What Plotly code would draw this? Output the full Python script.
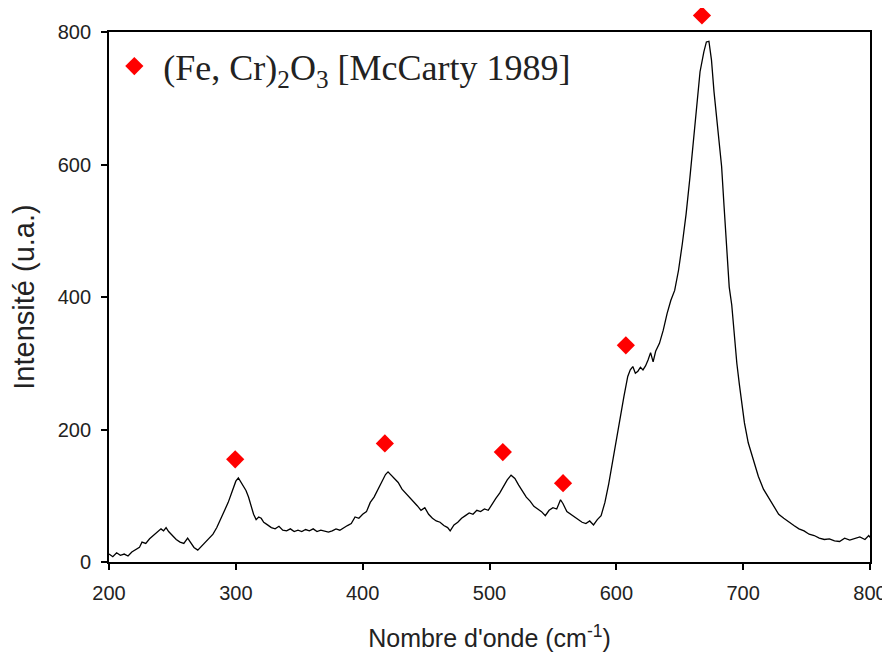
import plotly.graph_objects as go

# Raman spectrum
wavenumber = [200, 203, 206, 209, 212, 215, 218, 221, 224, 226, 229, 232, 235, 238, 241, 243, 245, 247,
              250, 253, 256, 259, 262, 264, 267, 270, 273, 276, 279, 282, 285, 288, 291, 294, 297, 300,
              302, 304, 306, 308, 310, 312, 314, 316, 318, 320, 322, 325, 328, 331, 334, 337, 340, 343,
              346, 349, 352, 355, 358, 361, 364, 367, 370, 373, 376, 379, 382, 385, 388, 391, 394, 397,
              400, 403, 406, 409, 412, 415, 418, 420, 422, 425, 428, 431, 434, 437, 440, 443, 446, 449,
              452, 455, 458, 461, 464, 467, 469, 472, 475, 478, 481, 484, 487, 490, 493, 496, 499, 502,
              505, 508, 511, 514, 517, 520, 523, 526, 529, 532, 535, 538, 541, 544, 547, 550, 553, 556,
              558, 561, 564, 567, 570, 573, 576, 579, 582, 585, 588, 591, 594, 597, 600, 603, 606, 609,
              611, 613, 615, 617, 619, 621, 623, 625, 627, 629, 631, 634, 637, 640, 643, 646, 649, 652,
              655, 658, 661, 663, 666, 669, 671, 673, 675, 677, 679, 681, 683, 685, 687, 689, 691, 693,
              695, 697, 699, 701, 704, 708, 712, 716, 720, 724, 728, 732, 736, 740, 744, 748, 752, 756,
              760, 764, 768, 772, 776, 780, 784, 788, 792, 796, 799, 800]
intensity = [12, 8, 14, 10, 12, 9, 15, 18, 22, 30, 28, 35, 40, 45, 50, 47, 52, 46,
             40, 34, 30, 28, 36, 30, 22, 18, 24, 30, 36, 42, 52, 64, 76, 90, 106, 122,
             127, 120, 115, 108, 98, 85, 72, 64, 68, 66, 60, 56, 52, 50, 54, 48, 47, 50,
             46, 48, 46, 49, 47, 50, 46, 48, 47, 45, 47, 50, 48, 52, 55, 58, 68, 66,
             72, 76, 90, 98, 110, 122, 132, 136, 132, 126, 120, 110, 104, 98, 92, 85, 78, 82,
             72, 66, 62, 60, 55, 52, 47, 56, 60, 66, 70, 74, 72, 78, 76, 80, 78, 88,
             96, 104, 114, 124, 131, 126, 116, 106, 98, 92, 84, 80, 76, 70, 78, 82, 80, 94,
             88, 76, 72, 68, 64, 60, 58, 62, 56, 64, 70, 90, 118, 152, 180, 215, 250, 280,
             290, 295, 285, 288, 294, 290, 296, 305, 316, 302, 318, 330, 350, 375, 395, 410, 440, 480,
             525, 580, 642, 690, 740, 770, 785, 786, 758, 710, 672, 640, 597, 535, 480, 415, 388, 340,
             300, 268, 240, 210, 180, 154, 129, 110, 98, 84, 72, 66, 60, 55, 50, 47, 42, 40,
             36, 34, 35, 32, 31, 36, 33, 35, 38, 34, 40, 37]

# Reference peak markers (Fe,Cr)2O3
peak_x = [299.5, 417.5, 510.5, 558, 607.5, 667.5]
peak_y = [155, 179, 166, 119, 327, 825]

x_ticks = [200, 300, 400, 500, 600, 700, 800]
y_ticks = [0, 200, 400, 600, 800]

# geometry: paper area spans full top; main y axis occupies lower part
W, H = 882, 647
ML, MR, MT, MB = 101, 20, 0, 93
paper_h = H - MT - MB              # 554
axis_h = 530                       # height of the framed plot box
dom_top = axis_h / paper_h
y_max = 800
y2_max = y_max * paper_h / axis_h  # same scale, taller domain (for the marker above the frame)

fig = go.Figure()
fig.add_trace(go.Scatter(x=wavenumber, y=intensity, mode="lines",
                         line=dict(color="black", width=1.3), showlegend=False,
                         xaxis="x", yaxis="y"))
fig.add_trace(go.Scatter(x=peak_x, y=peak_y, mode="markers", cliponaxis=False,
                         marker=dict(symbol="diamond", size=14, color="#ff0000"),
                         xaxis="x", yaxis="y2",
                         name="\u00a0(Fe, Cr)<sub>2</sub>O<sub>3</sub> [McCarty 1989]"))

axis_common = dict(showline=True, linecolor="black", linewidth=1.8, mirror=True,
                   ticks="outside", ticklen=6, tickwidth=1.5, tickcolor="black",
                   showgrid=False, zeroline=False, automargin=False,
                   tickfont=dict(family="Liberation Sans, Arial", size=20, color="#222"))

legend_top_px = 28.2  # from top of paper area
fig.update_layout(
    width=W, height=H,
    margin=dict(l=ML, r=MR, t=MT, b=MB),
    paper_bgcolor="white", plot_bgcolor="rgba(0,0,0,0)",
    xaxis=dict(range=[200, 800], tickvals=x_ticks, ticklabelstandoff=6, anchor="y",
               title=dict(text="Nombre d'onde (cm<sup>-1</sup>)", standoff=27,
                          font=dict(family="Liberation Sans, Arial", size=25, color="#222")),
               **axis_common),
    yaxis=dict(range=[0, y_max], tickvals=y_ticks, ticklabelstandoff=6, domain=[0, dom_top],
               anchor="x",
               title=dict(text="Intensité (u.a.)", standoff=18,
                          font=dict(family="Liberation Sans, Arial", size=29, color="#222")),
               **axis_common),
    yaxis2=dict(range=[0, y2_max], domain=[0, 1], anchor="x", visible=False,
                showgrid=False, zeroline=False),
    legend=dict(x=0.007, y=1 - legend_top_px / paper_h, xanchor="left", yanchor="top",
                bgcolor="rgba(0,0,0,0)",
                font=dict(family="Liberation Serif, Times New Roman", size=36, color="#222")),
)

fig.write_html("out.html")
